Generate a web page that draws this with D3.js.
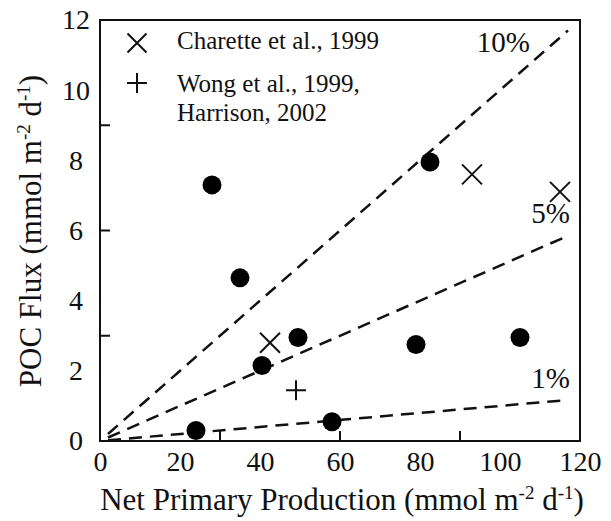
<!DOCTYPE html>
<html><head><meta charset="utf-8">
<script src="https://cdn.jsdelivr.net/npm/d3@7/dist/d3.min.js"></script>
<style>body{margin:0;background:#fff}svg{display:block}text{font-family:"Liberation Serif","Times New Roman",serif;fill:#111}</style>
</head><body><svg id="c" width="611" height="521"></svg>
<script>
// Data
const npp = [24, 28, 35, 40.5, 49.5, 58, 79, 82.5, 105];
const poc = [0.3, 7.3, 4.65, 2.15, 2.95, 0.55, 2.75, 7.95, 2.95];
const charetteX = [42.5, 93, 115];
const charetteY = [2.8, 7.6, 7.1];
const wongX = [49];
const wongY = [1.45];
const ratioLabels = ["10%", "5%", "1%"];
const ratios = [0.10, 0.05, 0.01];
const lineX = [2, 117];
const xTickLabels = [0, 20, 40, 60, 80, 100, 120];
const yTickLabels = [0, 2, 4, 6, 8, 10, 12];
const xMinorTicks = [30, 60, 90];
const yMinorTicks = [3, 6, 9];
const legendLabels = [["Charette et al., 1999"], ["Wong et al., 1999,", "Harrison, 2002"]];

const svg = d3.select("#c");
const L = 100, R = 580, T = 20, B = 441;
const x = d3.scaleLinear().domain([0, 120]).range([L, R]);
const y = d3.scaleLinear().domain([0, 12]).range([B, T]);

// frame
svg.append("rect").attr("x", L).attr("y", T).attr("width", R - L).attr("height", B - T)
  .attr("fill", "none").attr("stroke", "#111").attr("stroke-width", 2);

// axes (labels only)
const xAxis = svg.append("g").attr("transform", `translate(0,${B})`)
  .call(d3.axisBottom(x).tickValues(xTickLabels).tickSize(0).tickPadding(10));
xAxis.select(".domain").remove();
xAxis.selectAll("text").attr("font-size", 28).attr("font-family", "Liberation Serif").attr("fill", "#111");
const yAxis = svg.append("g").attr("transform", `translate(${L},0)`)
  .call(d3.axisLeft(y).tickValues(yTickLabels).tickSize(0).tickPadding(10));
yAxis.select(".domain").remove();
yAxis.selectAll("text").attr("font-size", 28).attr("font-family", "Liberation Serif").attr("fill", "#111")
  .attr("text-anchor", "middle").attr("x", -24);

// inside minor ticks
svg.append("g").selectAll("line").data(xMinorTicks).join("line")
  .attr("x1", d => x(d)).attr("x2", d => x(d)).attr("y1", B).attr("y2", B - 10)
  .attr("stroke", "#111").attr("stroke-width", 2);
svg.append("g").selectAll("line").data(yMinorTicks).join("line")
  .attr("y1", d => y(d)).attr("y2", d => y(d)).attr("x1", L).attr("x2", L + 10)
  .attr("stroke", "#111").attr("stroke-width", 2);

// ratio lines
const line = d3.line().x(d => x(d[0])).y(d => y(d[1]));
ratios.forEach((r, i) => {
  svg.append("path").datum(lineX.map(v => [v, v * r])).attr("d", line)
    .attr("fill", "none").attr("stroke", "#111").attr("stroke-width", 2.5)
    .attr("stroke-dasharray", "13,8");
});
// ratio labels
const labPos = [[107.5, 11.1], [117.5, 6.2], [117.5, 1.52]];
ratioLabels.forEach((t, i) => {
  svg.append("text").attr("x", x(labPos[i][0])).attr("y", y(labPos[i][1]))
    .attr("text-anchor", "end").attr("font-size", 29).text(t);
});

// circles
svg.append("g").selectAll("circle").data(npp).join("circle")
  .attr("cx", d => x(d)).attr("cy", (d, i) => y(poc[i])).attr("r", 9.5).attr("fill", "#000");

// X markers
function cross(g, cx, cy, s) {
  g.append("path").attr("d", `M${cx - s},${cy - s}L${cx + s},${cy + s}M${cx - s},${cy + s}L${cx + s},${cy - s}`)
    .attr("stroke", "#111").attr("stroke-width", 2).attr("fill", "none");
}
function plus(g, cx, cy, s) {
  g.append("path").attr("d", `M${cx - s},${cy}L${cx + s},${cy}M${cx},${cy - s}L${cx},${cy + s}`)
    .attr("stroke", "#111").attr("stroke-width", 2).attr("fill", "none");
}
const gm = svg.append("g");
charetteX.forEach((v, i) => cross(gm, x(v), y(charetteY[i]), 10));
wongX.forEach((v, i) => plus(gm, x(v), y(wongY[i]), 10));

// legend
cross(gm, 137, 43, 9.5);
plus(gm, 137, 83, 10);
svg.append("text").attr("x", 177).attr("y", 49).attr("font-size", 25).text(legendLabels[0][0]);
svg.append("text").attr("x", 177).attr("y", 92).attr("font-size", 25).text(legendLabels[1][0]);
svg.append("text").attr("x", 177).attr("y", 121).attr("font-size", 25).text(legendLabels[1][1]);

// axis titles
const xt = svg.append("text").attr("x", 342).attr("y", 510).attr("text-anchor", "middle").attr("font-size", 31);
xt.append("tspan").text("Net Primary Production (mmol m");
xt.append("tspan").attr("font-size", 19).attr("dy", -11).text("-2");
xt.append("tspan").attr("dy", 11).text(" d");
xt.append("tspan").attr("font-size", 19).attr("dy", -11).text("-1");
xt.append("tspan").attr("dy", 11).text(")");

const yt = svg.append("text").attr("transform", `translate(41,231) rotate(-90)`)
  .attr("text-anchor", "middle").attr("font-size", 31);
yt.append("tspan").text("POC Flux (mmol m");
yt.append("tspan").attr("font-size", 19).attr("dy", -11).text("-2");
yt.append("tspan").attr("dy", 11).text(" d");
yt.append("tspan").attr("font-size", 19).attr("dy", -11).text("-1");
yt.append("tspan").attr("dy", 11).text(")");
</script></body></html>
